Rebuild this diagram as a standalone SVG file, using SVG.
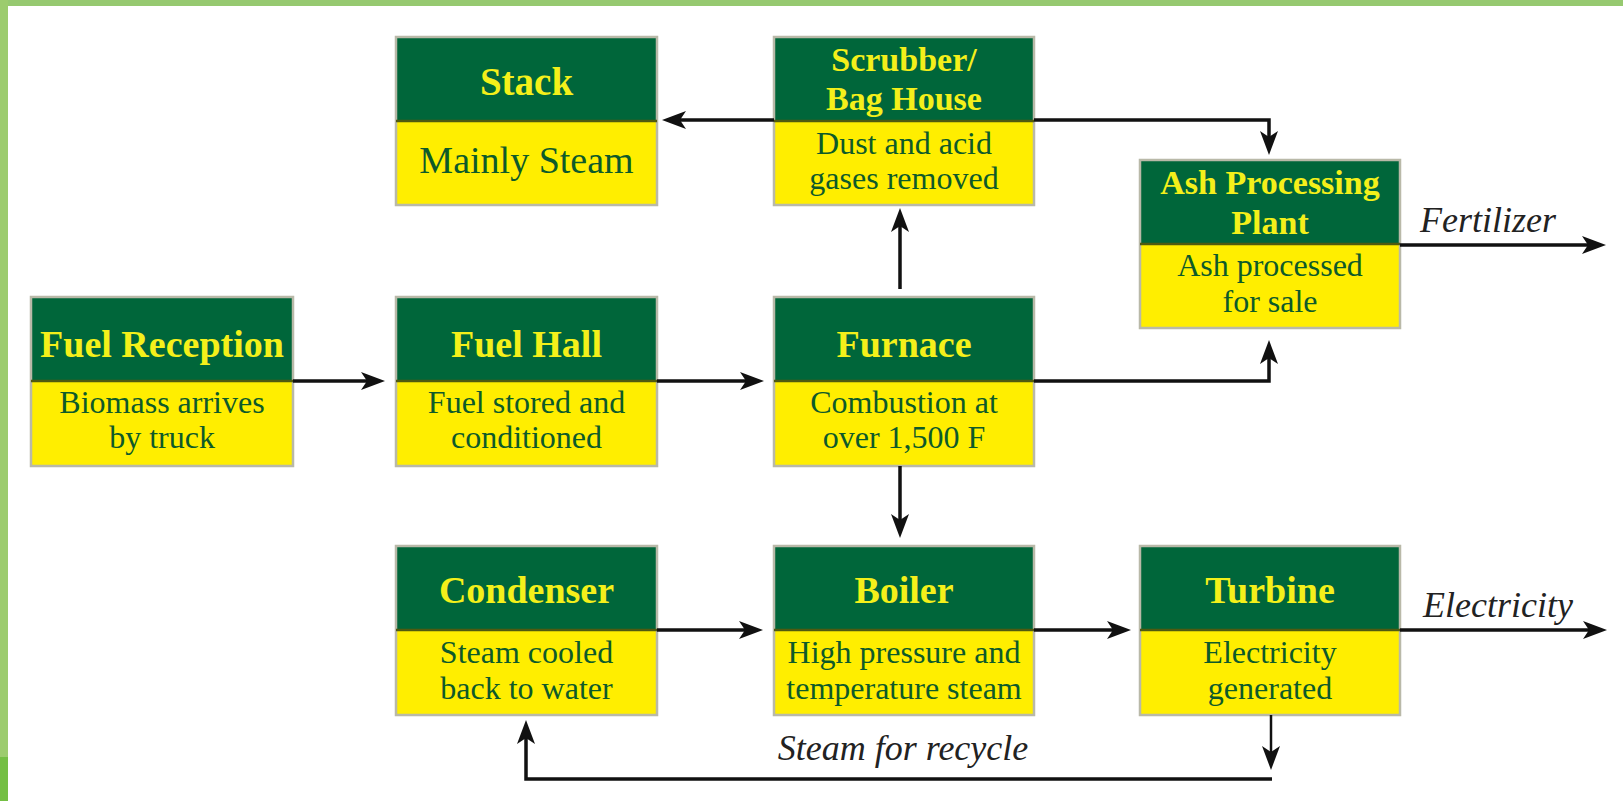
<svg xmlns="http://www.w3.org/2000/svg" width="1623" height="801" viewBox="0 0 1623 801">
<style>
.hd{fill:#00663a;}
.bd{fill:#ffee00;}
.fr{fill:none;stroke:#b9b9a8;stroke-width:2.5;}
.dv{stroke:#4f5a10;stroke-width:2.5;}
.ht{font-family:"Liberation Serif","Times New Roman",serif;font-weight:bold;font-size:38px;fill:#f4f01a;text-anchor:middle;}
.h2{font-size:34px;}
.bt{font-family:"Liberation Serif","Times New Roman",serif;font-size:32px;fill:#0d5a2a;text-anchor:middle;}
.lb{font-family:"Liberation Serif","Times New Roman",serif;font-style:italic;font-size:36px;fill:#222;text-anchor:middle;}
.cn{fill:none;stroke:#111;stroke-width:3.5;}
</style>
<defs>
<marker id="ah" markerUnits="userSpaceOnUse" markerWidth="26" markerHeight="22" refX="14" refY="11" orient="auto">
<path d="M0,2 L24,11 L0,20 L6,11 Z" fill="#111"/>
</marker>
</defs>
<rect x="0" y="0" width="1623" height="801" fill="#ffffff"/>
<rect x="0" y="0" width="1623" height="6" fill="#96c970"/>
<rect x="0" y="0" width="8" height="757" fill="#9ccc6e"/>
<rect x="0" y="757" width="8" height="44" fill="#74bf44"/>

<g id="stack">
<rect class="hd" x="396" y="37" width="261" height="84"/>
<rect class="bd" x="396" y="121" width="261" height="84"/>
<rect class="fr" x="396" y="37" width="261" height="168"/>
<line class="dv" x1="396" y1="121" x2="657" y2="121"/>
<text class="ht" x="526.5" y="95" style="font-size:39px">Stack</text>
<text class="bt" x="526.5" y="173" style="font-size:38px">Mainly Steam</text>
</g>

<g id="scrubber">
<rect class="hd" x="774" y="37" width="260" height="84"/>
<rect class="bd" x="774" y="121" width="260" height="84"/>
<rect class="fr" x="774" y="37" width="260" height="168"/>
<line class="dv" x1="774" y1="121" x2="1034" y2="121"/>
<text class="ht h2" x="904" y="71">Scrubber/</text>
<text class="ht h2" x="904" y="110">Bag House</text>
<text class="bt" x="904" y="154">Dust and acid</text>
<text class="bt" x="904" y="189">gases removed</text>
</g>

<g id="ash">
<rect class="hd" x="1140" y="160" width="260" height="84"/>
<rect class="bd" x="1140" y="244" width="260" height="84"/>
<rect class="fr" x="1140" y="160" width="260" height="168"/>
<line class="dv" x1="1140" y1="244" x2="1400" y2="244"/>
<text class="ht h2" x="1270" y="194">Ash Processing</text>
<text class="ht h2" x="1270" y="234">Plant</text>
<text class="bt" x="1270" y="276">Ash processed</text>
<text class="bt" x="1270" y="312">for sale</text>
</g>

<g id="fuel-reception">
<rect class="hd" x="31" y="297" width="262" height="84"/>
<rect class="bd" x="31" y="381" width="262" height="85"/>
<rect class="fr" x="31" y="297" width="262" height="169"/>
<line class="dv" x1="31" y1="381" x2="293" y2="381"/>
<text class="ht" x="162" y="357">Fuel Reception</text>
<text class="bt" x="162" y="413">Biomass arrives</text>
<text class="bt" x="162" y="448">by truck</text>
</g>

<g id="fuel-hall">
<rect class="hd" x="396" y="297" width="261" height="84"/>
<rect class="bd" x="396" y="381" width="261" height="85"/>
<rect class="fr" x="396" y="297" width="261" height="169"/>
<line class="dv" x1="396" y1="381" x2="657" y2="381"/>
<text class="ht" x="526.5" y="357">Fuel Hall</text>
<text class="bt" x="526.5" y="413">Fuel stored and</text>
<text class="bt" x="526.5" y="448">conditioned</text>
</g>

<g id="furnace">
<rect class="hd" x="774" y="297" width="260" height="84"/>
<rect class="bd" x="774" y="381" width="260" height="85"/>
<rect class="fr" x="774" y="297" width="260" height="169"/>
<line class="dv" x1="774" y1="381" x2="1034" y2="381"/>
<text class="ht" x="904" y="357">Furnace</text>
<text class="bt" x="904" y="413">Combustion at</text>
<text class="bt" x="904" y="448">over 1,500 F</text>
</g>

<g id="condenser">
<rect class="hd" x="396" y="546" width="261" height="84"/>
<rect class="bd" x="396" y="630" width="261" height="85"/>
<rect class="fr" x="396" y="546" width="261" height="169"/>
<line class="dv" x1="396" y1="630" x2="657" y2="630"/>
<text class="ht" x="526.5" y="603">Condenser</text>
<text class="bt" x="526.5" y="663">Steam cooled</text>
<text class="bt" x="526.5" y="699">back to water</text>
</g>

<g id="boiler">
<rect class="hd" x="774" y="546" width="260" height="84"/>
<rect class="bd" x="774" y="630" width="260" height="85"/>
<rect class="fr" x="774" y="546" width="260" height="169"/>
<line class="dv" x1="774" y1="630" x2="1034" y2="630"/>
<text class="ht" x="904" y="603">Boiler</text>
<text class="bt" x="904" y="663">High pressure and</text>
<text class="bt" x="904" y="699">temperature steam</text>
</g>

<g id="turbine">
<rect class="hd" x="1140" y="546" width="260" height="84"/>
<rect class="bd" x="1140" y="630" width="260" height="85"/>
<rect class="fr" x="1140" y="546" width="260" height="169"/>
<line class="dv" x1="1140" y1="630" x2="1400" y2="630"/>
<text class="ht" x="1270" y="603">Turbine</text>
<text class="bt" x="1270" y="663">Electricity</text>
<text class="bt" x="1270" y="699">generated</text>
</g>

<g id="connectors">
<path class="cn" d="M293,381 H375" marker-end="url(#ah)"/>
<path class="cn" d="M657,381 H754" marker-end="url(#ah)"/>
<path class="cn" d="M900,289 V218" marker-end="url(#ah)"/>
<path class="cn" d="M774,120 H672" marker-end="url(#ah)"/>
<path class="cn" d="M1034,120 H1269 V145" marker-end="url(#ah)"/>
<path class="cn" d="M1034,381 H1269 V350" marker-end="url(#ah)"/>
<path class="cn" d="M1400,245 H1596" marker-end="url(#ah)"/>
<path class="cn" d="M900,466 V528" marker-end="url(#ah)"/>
<path class="cn" d="M657,630 H753" marker-end="url(#ah)"/>
<path class="cn" d="M1034,630 H1121" marker-end="url(#ah)"/>
<path class="cn" d="M1400,630 H1597" marker-end="url(#ah)"/>
<path class="cn" d="M1271,715 V760" style="stroke-width:2.5" marker-end="url(#ah)"/>
<path class="cn" d="M1272,779 H526 V730" marker-end="url(#ah)"/>
<text class="lb" x="1488" y="232">Fertilizer</text>
<text class="lb" x="1498" y="617">Electricity</text>
<text class="lb" x="903" y="760">Steam for recycle</text>
</g>
</svg>
